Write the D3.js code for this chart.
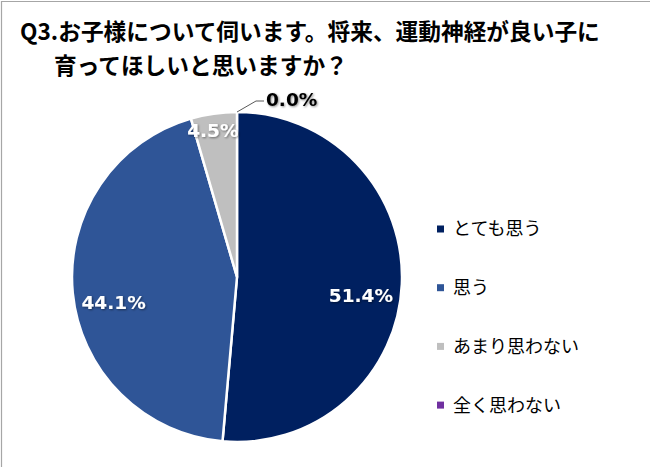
<!DOCTYPE html>
<html><head><meta charset="utf-8">
<script src="https://cdn.jsdelivr.net/npm/d3@7"></script>
<style>
html,body{margin:0;padding:0;background:#fff;}
svg{display:block;}
</style></head>
<body>
<svg id="chart" width="650" height="467"></svg>
<script>
const titleLines = ["Q3.お子様について伺います。将来、運動神経が良い子に", "育ってほしいと思いますか？"];
const categories = ["とても思う", "思う", "あまり思わない", "全く思わない"];
const values = [51.4, 44.1, 4.5, 0.0];
const colors = ["#002060", "#2F5597", "#BFBFBF", "#7030A0"];

const svg = d3.select("#chart");
const W = 650, H = 467;

// frame (top & left)
svg.append("line").attr("x1",1).attr("y1",1.5).attr("x2",W).attr("y2",1.5).attr("stroke","#a6a6a6").attr("stroke-width",1.2);
svg.append("line").attr("x1",1.5).attr("y1",1).attr("x2",1.5).attr("y2",H).attr("stroke","#a6a6a6").attr("stroke-width",1.2);

const defs = svg.append("defs");
const f = defs.append("filter").attr("id","shadow").attr("x","-20%").attr("y","-30%").attr("width","140%").attr("height","160%");
f.append("feDropShadow").attr("dx",1).attr("dy",1).attr("stdDeviation",0.8).attr("flood-color","#000").attr("flood-opacity",0.45);

// title
const title = svg.append("g").attr("font-family","'Noto Sans CJK JP', sans-serif").attr("font-weight","bold").attr("font-size",22.7).attr("fill","#000");
title.append("text").attr("x",20).attr("y",40).text(titleLines[0]);
title.append("text").attr("x",54).attr("y",74).text(titleLines[1]);

// pie
const cx = 237, cy = 277, R = 165;
const data = categories.map((c,i)=>({cat:c, value:values[i], color:colors[i]}));
const pie = d3.pie().value(d=>d.value).sort(null);
const arcs = pie(data);
const arc = d3.arc().innerRadius(0).outerRadius(R);
const g = svg.append("g").attr("transform",`translate(${cx},${cy})`);
g.selectAll("path").data(arcs.filter(a=>a.data.value>0)).join("path")
  .attr("d",arc).attr("fill",d=>d.data.color).attr("stroke","#fff").attr("stroke-width",2.5).attr("stroke-linejoin","round");

// labels
const lblFont = "'DejaVu Sans', Verdana, sans-serif";
const lblSize = 18.5;
arcs.forEach(a=>{
  const txt = a.data.value.toFixed(1)+"%";
  if (a.data.value === 0) {
    const ang = a.startAngle;
    const p0 = [R*Math.sin(ang), -R*Math.cos(ang)];
    const p1 = [p0[0]+19, p0[1]-11];
    const p2 = [p1[0]+8, p1[1]];
    g.append("polyline").attr("points",[p0,p1,p2].map(p=>p.join(",")).join(" "))
      .attr("fill","none").attr("stroke","#595959").attr("stroke-width",1);
    g.append("text").attr("x",p2[0]+2).attr("y",p2[1]-1).attr("dy","0.35em")
      .attr("font-family",lblFont).attr("font-weight","bold").attr("font-size",lblSize)
      .attr("fill","#000").attr("filter","url(#shadow)").text(txt);
    return;
  }
  const mid = (a.startAngle+a.endAngle)/2;
  const small = a.data.value < 10;
  const r = small ? 150 : 124;
  const x = r*Math.sin(mid) + (small ? -3 : 0), y = -r*Math.cos(mid) + (small ? 2 : 13);
  g.append("text").attr("x",x).attr("y",y).attr("dy","0.35em").attr("text-anchor","middle")
    .attr("font-family",lblFont).attr("font-weight","bold").attr("font-size",lblSize)
    .attr("fill","#fff").attr("filter","url(#shadow)").text(txt);
});

// legend
const leg = svg.append("g").attr("transform","translate(437,229)");
const li = leg.selectAll("g").data(data).join("g").attr("transform",(d,i)=>`translate(0,${i*58.7})`);
li.append("rect").attr("x",0).attr("y",-3.5).attr("width",7).attr("height",7).attr("fill",d=>d.color);
li.append("text").attr("x",16).attr("y",0).attr("dy","0.36em")
  .attr("font-family","'Noto Sans CJK JP', sans-serif").attr("font-size",18).attr("fill","#000").text(d=>d.cat);
</script>
</body></html>
